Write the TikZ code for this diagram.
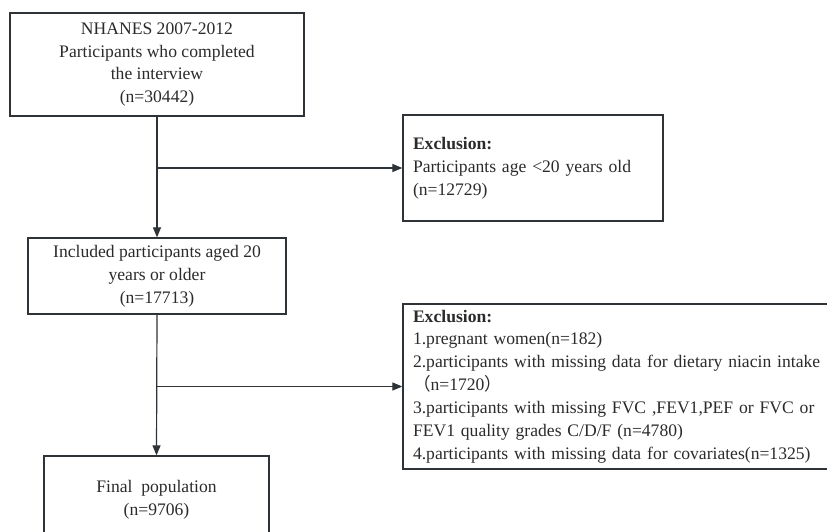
\documentclass[tikz,border=0pt]{standalone}
\usepackage{fontspec}
\setmainfont{Liberation Serif}
\newfontfamily\cjkfont{Noto Sans CJK SC}
\usetikzlibrary{arrows.meta}
\definecolor{ink}{HTML}{2B2B2B}
\definecolor{edge}{HTML}{2E3338}
\begin{document}
\begin{tikzpicture}[x=1pt,y=-1pt,
  box/.style={draw=edge, line width=1.3pt, text=ink, font=\fontsize{17.6}{22.9}\selectfont, inner sep=0pt, align=center},
  lbox/.style={box, align=left, inner xsep=10pt},
  conn/.style={draw=edge, line width=1.2pt},
  arr/.style={conn, -{Triangle[length=10pt,width=8pt]}}]
\useasboundingbox (0,0) rectangle (827,532);
\clip (0,0) rectangle (827,532);
\fill[white] (0,0) rectangle (827,532);

\node[box, minimum width=294pt, minimum height=103pt] (start) at (157,64.5)
  {NHANES 2007-2012\\Participants who completed\\the interview\\(n=30442)};
\node[box, minimum width=258pt, minimum height=76pt] (incl) at (157,276)
  {Included participants aged 20\\years or older\\(n=17713)};
\node[box, minimum width=225pt, minimum height=88pt] (final) at (156.5,500)
  {Final\enspace population\\(n=9706)};

\node[lbox, text width=240pt, minimum height=106pt] (ex1) at (533,168)
  {\textbf{Exclusion:}\\Participants age <20 years old\\(n=12729)};
\node[lbox, text width=410pt, minimum height=165pt] (ex2) at (618,386.5)
  {\textbf{Exclusion:}\\1.pregnant women(n=182)\\2.participants with missing data for dietary niacin intake\\{\cjkfont （}n=1720{\cjkfont ）}\\3.participants with missing FVC ,FEV1,PEF or FVC or\\FEV1 quality grades C/D/F (n=4780)\\4.participants with missing data for covariates(n=1325)};

\coordinate (j1) at (start.south |- ex1.west);
\coordinate (j2) at (incl.south |- ex2.west);
\draw[arr] (start.south) -- (incl.north);
\draw[arr] (j1) -- (ex1.west);
\draw[arr] (incl.south) -- (final.north);
\draw[arr] (j2) -- (ex2.west);
\end{tikzpicture}
\end{document}
